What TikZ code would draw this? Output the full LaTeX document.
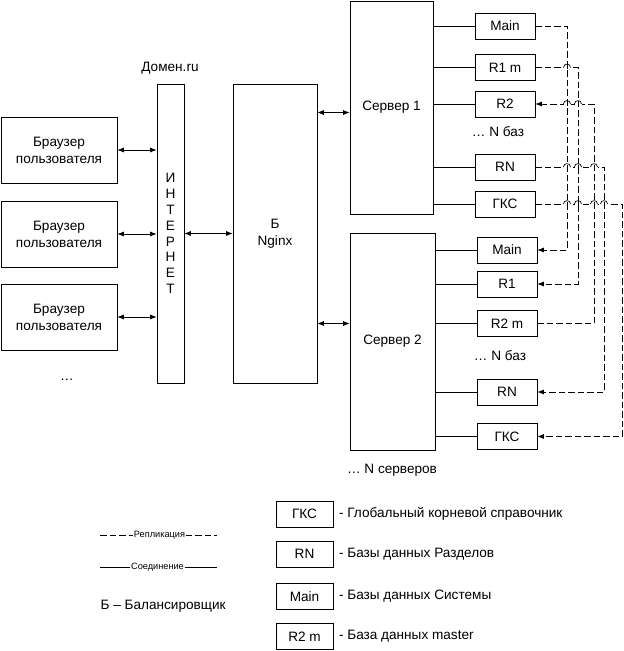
\documentclass[tikz,border=0pt]{standalone}
\usepackage{fontspec}
\setmainfont{Liberation Sans}
\usetikzlibrary{calc,positioning,arrows.meta}

% small bridge where a replication line jumps over another one
\newcommand{\hop}[1]{%
	\coordinate (hp) at (#1);
	\fill[white] ($(hp)+(-3.5,-1.2)$) rectangle ($(hp)+(3.5,1.2)$);
	\draw[repl] ($(hp)+(0,-1.6)$) -- ($(hp)+(0,1.6)$);
	\draw ($(hp)+(-3.5,0)$) .. controls +(0,-4.5) and +(0,-4.5) .. ($(hp)+(3.5,0)$);}

\begin{document}
\begin{tikzpicture}[x=1pt, y=-1pt, line width=0.7pt,
		font=\fontsize{13.6}{17}\selectfont,
		>={Latex[length=6.5pt,width=5pt]},
		box/.style={draw, inner sep=0pt, align=center},
		db/.style={draw, minimum width=60pt, minimum height=26pt, inner sep=0pt},
		repl/.style={dash pattern=on 6.5pt off 3pt},
		small/.style={font=\fontsize{9.2}{10}\selectfont, inner sep=0.5pt}]
	
	\useasboundingbox (0,0) rectangle (624,651);
	
	% clients, internet, balancer
	\foreach \n/\y in {1/150,2/234,3/317}
		\node[box, minimum width=116pt, minimum height=66pt] (br\n) at (59,\y) {Браузер\\пользователя};
	\node (brdots) at (67,380) {…};
	
	\node[box, minimum width=27pt, minimum height=299pt, font=\fontsize{13.6}{15.8}\selectfont] (inet) at (170.5,233.5) {И\\Н\\Т\\Е\\Р\\Н\\Е\\Т};
	\node (dom) at (170,68) {Домен.ru};
	\node[box, minimum width=84pt, minimum height=299pt] (bal) at (275,233.5) {Б\\Nginx};
	
	% servers
	\node[box, minimum width=83pt, minimum height=213pt] (srv1) at (391.5,107.5) {Сервер 1};
	\node[box, minimum width=85pt, minimum height=217pt] (srv2) at (392.5,341.5) {Сервер 2};
	\node (nsrv) at (392,470) {… N серверов};
	
	% databases
	\foreach \n/\t/\y in {main/Main/26, r1/R1 m/67.5, r2/R2/104, rn/RN/167, gks/ГКС/204}
		\node[db] (s1\n) at (505,\y) {\t};
	\foreach \n/\t/\y in {main/Main/250, r1/R1/284, r2/R2 m/323.5, rn/RN/392, gks/ГКС/436.5}
		\node[db] (s2\n) at (507,\y) {\t};
	\node (nb1) at (498,132) {… N баз};
	\node (nb2) at (500,356) {… N баз};
	
	\foreach \s in {1,2}
		\foreach \n in {main,r1,r2,rn,gks}
			\draw (srv\s.east |- s\s\n.west) -- (s\s\n.west);
	
	% connections
	\foreach \n in {1,2,3}
		\draw[<->] (br\n.east) -- (br\n.east -| inet.west);
	\draw[<->] (inet.east) -- (bal.west);
	\coordinate (in1) at ([yshift=-5pt]srv1.west);
	\coordinate (in2) at ([yshift=18pt]srv2.west);
	\draw[<->] (bal.east |- in1) -- (in1);
	\draw[<->] (bal.east |- in2) -- (in2);
	
	% replication
	\coordinate (vmain) at (567,0);
	\coordinate (vr1) at (578,0);
	\coordinate (vr2) at (594,0);
	\coordinate (vrn) at (604,0);
	\coordinate (vgks) at (622.5,0);
	\foreach \n in {main,r1,rn,gks}
		\draw[repl,->] (s1\n.east) -- (v\n |- s1\n.east) |- (s2\n.east);
	\draw[repl,->] (s2r2.east) -- (vr2 |- s2r2.east) |- (s1r2.east);
	\foreach \h/\v in {r1/main, r2/main, r2/r1, rn/main, rn/r1, rn/r2, gks/main, gks/r1, gks/r2, gks/rn}
		\hop{v\v |- s1\h.east};
	
	% legend
	\node[small] (lrepl) at (159.5,535) {Репликация};
	\coordinate (lr0) at (100,535);
	\coordinate (lr1) at (217,535);
	\draw[repl, line width=0.5pt] (lr0) -- (lrepl.west);
	\draw[repl, line width=0.5pt] (lrepl.east) -- (lr1);
	\node[small] (lconn) at (157.5,567) {Соединение};
	\coordinate (lc0) at (100,567);
	\coordinate (lc1) at (217,567);
	\draw[line width=0.5pt] (lc0) -- (lconn.west);
	\draw[line width=0.5pt] (lconn.east) -- (lc1);
	\node[anchor=west] (lbal) at (97,606) {Б – Балансировщик};
	
	\foreach \n/\t/\y/\d in {gks/ГКС/514/Глобальный корневой справочник, rn/RN/554/Базы данных Разделов, main/Main/596.5/Базы данных Системы, r2/R2 m/636.5/База данных master}{
		\node[db, minimum width=57pt] (l\n) at (304.5,\y) {\t};
		\node[right=2pt of l\n] (t\n) {- \d};
	}
	
\end{tikzpicture}
\end{document}
